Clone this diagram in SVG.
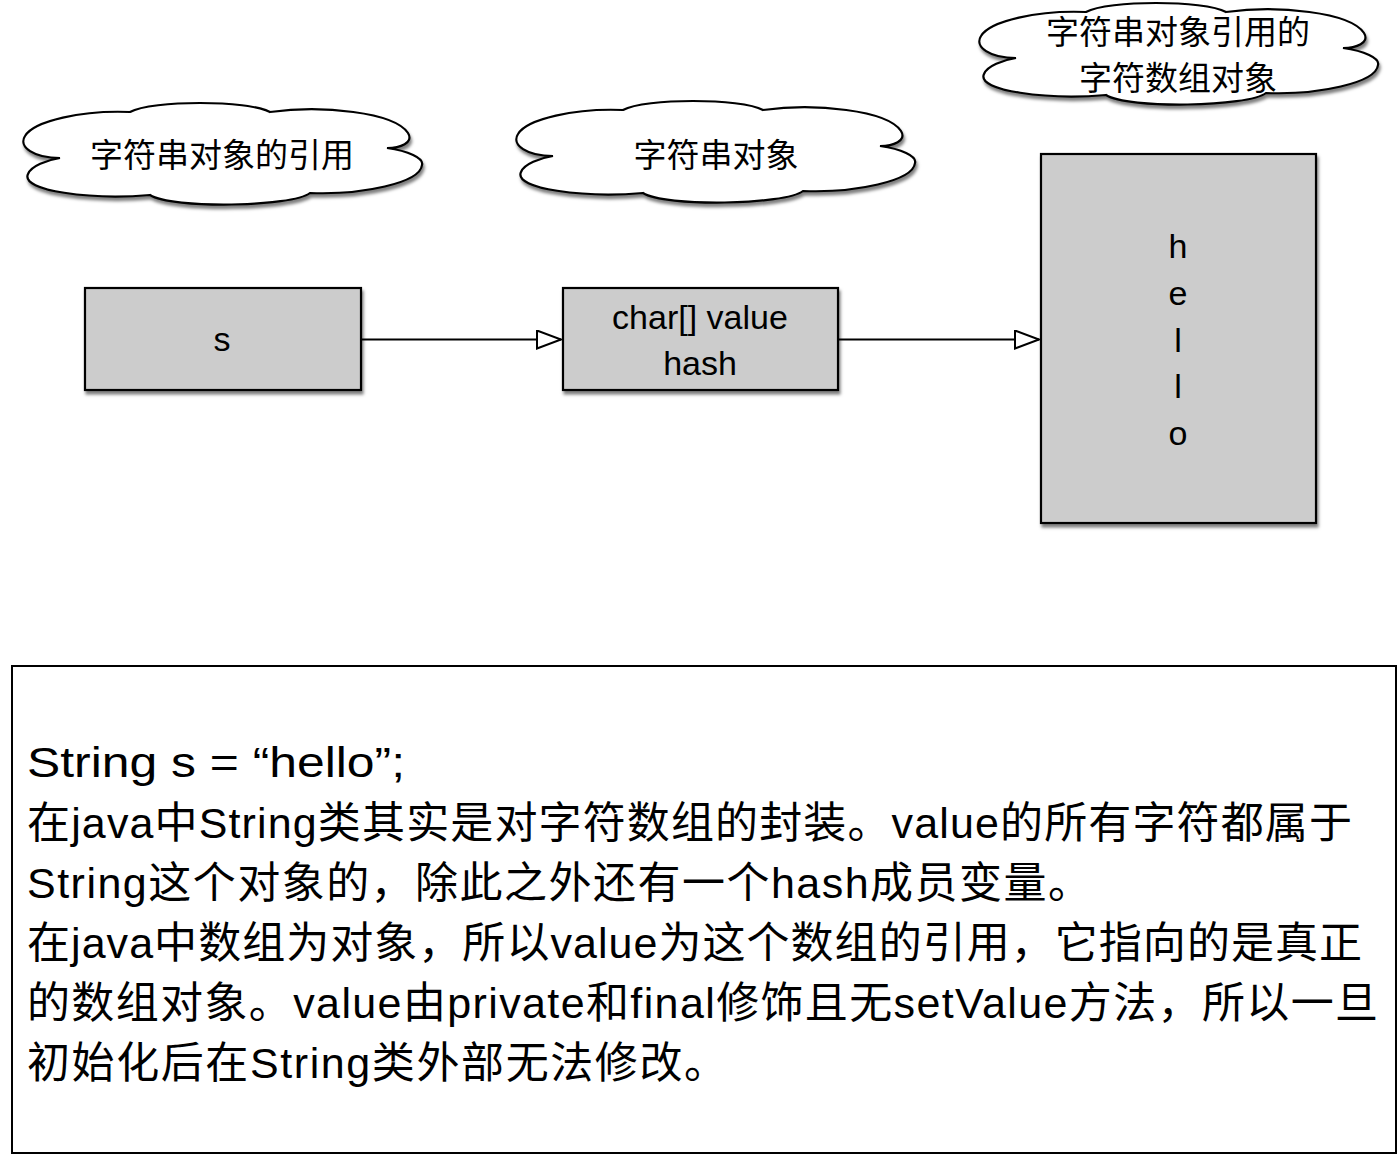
<svg xmlns="http://www.w3.org/2000/svg" xmlns:xlink="http://www.w3.org/1999/xlink" width="1400" height="1163" viewBox="0 0 1400 1163">
<style>
.cloud{fill:#fff;stroke:#000;stroke-width:2.2;filter:url(#shadow)}
.box{fill:#cccccc;stroke:#000;stroke-width:2.2;filter:url(#shadow)}
.ctext{font-family:"Liberation Sans","Noto Sans CJK SC",sans-serif;font-size:33px;fill:#000;text-anchor:middle}
.btext{font-family:"Liberation Sans","Noto Sans CJK SC",sans-serif;font-size:34px;fill:#000;text-anchor:middle}
.ttext{font-family:"Liberation Sans","Noto Sans CJK SC",sans-serif;font-size:43px;fill:#000}
.conn{stroke:#000;stroke-width:1.8;fill:none;marker-end:url(#open)}
</style>
<defs>
<filter id="shadow" x="-10%" y="-10%" width="125%" height="130%">
<feDropShadow dx="1.5" dy="3.5" stdDeviation="1.8" flood-color="#000" flood-opacity="0.5"/>
</filter>
<marker id="open" markerUnits="userSpaceOnUse" markerWidth="30" markerHeight="24" refX="25" refY="10" orient="auto">
<path d="M1,1 L25,10 L1,19 Z" fill="#fff" stroke="#000" stroke-width="2"/>
</marker>
<path id="cloud" d="M38,55 C12,55 -4,44 3,33 C12,18 60,7 108,9 C130,-3 226,-3 248,9 C300,2 372,9 386,30 C392,40 378,45 365,45 C386,48 402,55 400,62 C398,80 340,92 288,90 C270,104 150,106 128,92 C70,97 -2,88 6,71 C9,63 25,57 38,55 Z"/>
</defs>
<g id="cloud-ref">
<use xlink:href="#cloud" href="#cloud" class="cloud" transform="translate(22,103)"/>
<text class="ctext" x="222" y="167">字符串对象的引用</text>
</g>
<g id="cloud-obj">
<use xlink:href="#cloud" href="#cloud" class="cloud" transform="translate(515,101)"/>
<text class="ctext" x="716" y="167">字符串对象</text>
</g>
<g id="cloud-arr">
<use xlink:href="#cloud" href="#cloud" class="cloud" transform="translate(978,3)"/>
<text class="ctext" x="1178" y="44">字符串对象引用的</text>
<text class="ctext" x="1178" y="90">字符数组对象</text>
</g>
<g id="connectors">
<line class="conn" x1="361" y1="339.5" x2="561" y2="339.5"/>
<line class="conn" x1="838" y1="339.5" x2="1039" y2="339.5"/>
</g>
<g id="node-s">
<rect class="box" x="85" y="288" width="276" height="102"/>
<text class="btext" x="222" y="351">s</text>
</g>
<g id="node-string">
<rect class="box" x="563" y="288" width="275" height="102"/>
<text class="btext" x="700" y="329">char[] value</text>
<text class="btext" x="700" y="375">hash</text>
</g>
<g id="node-array">
<rect class="box" x="1041" y="154" width="275" height="369"/>
<text class="btext" x="1178" y="258">h</text>
<text class="btext" x="1178" y="305">e</text>
<text class="btext" x="1178" y="352">l</text>
<text class="btext" x="1178" y="398">l</text>
<text class="btext" x="1178" y="445">o</text>
</g>
<g id="note">
<rect x="12" y="666" width="1384" height="487" fill="#fff" stroke="#000" stroke-width="2"/>
<text class="ttext" x="27" y="777" textLength="378" lengthAdjust="spacingAndGlyphs">String s = “hello”;</text>
<text class="ttext" x="27" y="838" textLength="1325" lengthAdjust="spacing">在java中String类其实是对字符数组的封装。value的所有字符都属于</text>
<text class="ttext" x="27" y="898" textLength="1064" lengthAdjust="spacing">String这个对象的，除此之外还有一个hash成员变量。</text>
<text class="ttext" x="27" y="958" textLength="1335" lengthAdjust="spacing">在java中数组为对象，所以value为这个数组的引用，它指向的是真正</text>
<text class="ttext" x="27" y="1018" textLength="1351" lengthAdjust="spacing">的数组对象。value由private和final修饰且无setValue方法，所以一旦</text>
<text class="ttext" x="27" y="1078" textLength="700" lengthAdjust="spacing">初始化后在String类外部无法修改。</text>
</g>
</svg>
